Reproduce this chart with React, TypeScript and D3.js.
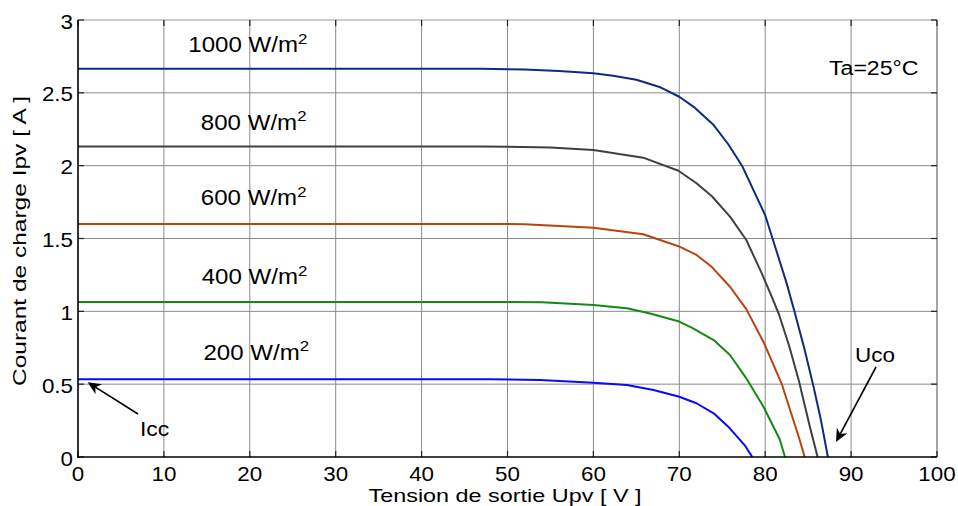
import React from "react";
import * as d3 from "d3";

const xTicks = [0, 10, 20, 30, 40, 50, 60, 70, 80, 90, 100];
const yTicks = [0, 0.5, 1, 1.5, 2, 2.5, 3];

const voltage1000 = [0, 47, 50, 52, 56, 60, 62.3, 65, 67.8, 70, 71.8, 74, 75.7, 77.3, 80, 80.8, 82.5, 83.4, 84.6, 85.6, 86.5, 87.3];
const current1000 = [2.665, 2.665, 2.662, 2.66, 2.65, 2.634, 2.618, 2.59, 2.538, 2.473, 2.398, 2.279, 2.147, 2.0, 1.66, 1.51, 1.192, 1.0, 0.735, 0.49, 0.25, 0];

const voltage800 = [0, 47, 50, 55, 60, 65.8, 69.9, 72, 73.8, 75.9, 77.8, 79.6, 80.6, 81.6, 82.8, 83.9, 85.2, 86.1];
const current800 = [2.132, 2.132, 2.13, 2.125, 2.107, 2.055, 1.965, 1.879, 1.79, 1.65, 1.49, 1.261, 1.124, 0.98, 0.76, 0.528, 0.208, 0];

const voltage600 = [0, 48, 52, 60, 65.8, 69.9, 72, 73.8, 75.9, 77.8, 79.8, 81.9, 83.9, 84.6];
const current600 = [1.6, 1.6, 1.598, 1.574, 1.529, 1.447, 1.387, 1.304, 1.169, 1.015, 0.79, 0.506, 0.139, 0];

const voltage400 = [0, 50, 54, 60, 63.9, 66.6, 70, 71.6, 74, 75.9, 77.8, 79.8, 81.7, 82.3];
const current400 = [1.064, 1.064, 1.062, 1.043, 1.021, 0.985, 0.93, 0.883, 0.803, 0.7, 0.54, 0.345, 0.12, 0];

const voltage200 = [0, 48, 53.8, 60, 63.9, 67, 70, 72, 74, 75.7, 77.6, 78.5];
const current200 = [0.533, 0.533, 0.529, 0.51, 0.494, 0.46, 0.414, 0.369, 0.3, 0.208, 0.082, 0];

const seriesNames = ["1000 W/m", "800 W/m", "600 W/m", "400 W/m", "200 W/m"];
const seriesColors = ["#102a80", "#404040", "#b8440e", "#138a13", "#0a0af5"];
const seriesVoltages = [voltage1000, voltage800, voltage600, voltage400, voltage200];
const seriesCurrents = [current1000, current800, current600, current400, current200];
// label anchor (data coords) for each curve label
const labelX = [12.84, 14.3, 14.3, 14.4, 14.6];
const labelY = [2.778, 2.245, 1.73, 1.186, 0.666];

const FONT = "'Liberation Sans', Arial, sans-serif";
const SX = 1.12;

function SText(props: { x: number; y: number; size: number; anchor?: string; sx?: number; children: React.ReactNode }) {
  const { x, y, size, anchor, sx, children } = props;
  return (
    <text transform={`translate(${x},${y}) scale(${sx ?? SX},1)`} fontSize={size} textAnchor={anchor ?? "start"} fill="#000">
      {children}
    </text>
  );
}

export default function App() {
  const W = 958, H = 506;
  const x = d3.scaleLinear().domain([0, 100]).range([78, 937]);
  const y = d3.scaleLinear().domain([0, 3]).range([457, 20]);
  const line = d3.line<[number, number]>().x(d => x(d[0])).y(d => y(d[1]));

  const arrow = (x1: number, y1: number, x2: number, y2: number) => {
    const ang = Math.atan2(y2 - y1, x2 - x1);
    const L = 13, Wd = 6;
    const bx = x2 - L * Math.cos(ang), by = y2 - L * Math.sin(ang);
    const nx = -Math.sin(ang), ny = Math.cos(ang);
    const mx = x2 - L * 0.7 * Math.cos(ang), my = y2 - L * 0.7 * Math.sin(ang);
    const pts = [
      [x2, y2],
      [bx + nx * Wd, by + ny * Wd],
      [mx, my],
      [bx - nx * Wd, by - ny * Wd],
    ];
    return (
      <g>
        <line x1={x1} y1={y1} x2={mx} y2={my} stroke="#000" strokeWidth={1.6} />
        <polygon points={pts.map(p => p.join(",")).join(" ")} fill="#000" />
      </g>
    );
  };

  return (
    <svg width={W} height={H} style={{ position: "absolute", left: 0, top: 0, background: "#fff" }} fontFamily={FONT}>
      <rect x={0} y={0} width={W} height={H} fill="#fff" />
      {/* grid */}
      {xTicks.slice(1, -1).map(t => (
        <line key={"gx" + t} x1={x(t)} x2={x(t)} y1={y(0)} y2={y(3)} stroke="#8a8a8a" strokeWidth={1} />
      ))}
      {yTicks.slice(1, -1).map(t => (
        <line key={"gy" + t} x1={x(0)} x2={x(100)} y1={y(t)} y2={y(t)} stroke="#8a8a8a" strokeWidth={1} />
      ))}
      {/* box */}
      <line x1={x(0)} x2={x(100)} y1={y(3)} y2={y(3)} stroke="#9a9a9a" strokeWidth={1.2} />
      <line x1={x(100)} x2={x(100)} y1={y(0)} y2={y(3)} stroke="#6a6a6a" strokeWidth={1.2} />
      {/* ticks */}
      {xTicks.map(t => (
        <g key={"tx" + t}>
          <line x1={x(t)} x2={x(t)} y1={y(0)} y2={y(0) - 6} stroke="#222" strokeWidth={1.2} />
          <line x1={x(t)} x2={x(t)} y1={y(3)} y2={y(3) + 6} stroke="#222" strokeWidth={1.2} />
          <SText x={x(t)} y={y(0) + 24} size={20} anchor="middle">{t}</SText>
        </g>
      ))}
      {yTicks.map(t => (
        <g key={"ty" + t}>
          <line x1={x(0)} x2={x(0) + 6} y1={y(t)} y2={y(t)} stroke="#222" strokeWidth={1.2} />
          <line x1={x(100)} x2={x(100) - 6} y1={y(t)} y2={y(t)} stroke="#222" strokeWidth={1.2} />
          <SText x={x(0) - 5} y={y(t) + 8.5} size={20} anchor="end">{t}</SText>
        </g>
      ))}
      {/* curves */}
      {seriesVoltages.map((vs, i) => (
        <path key={"c" + i} d={line(vs.map((v, j) => [v, seriesCurrents[i][j]]) as [number, number][]) || ""}
          fill="none" stroke={seriesColors[i]} strokeWidth={2} strokeLinejoin="round" />
      ))}
      {/* axes lines */}
      <line x1={x(0)} x2={x(0)} y1={y(0) + 1} y2={y(3)} stroke="#000" strokeWidth={1.6} />
      <line x1={x(0)} x2={x(100)} y1={y(0)} y2={y(0)} stroke="#000" strokeWidth={1.6} />
      {/* curve labels */}
      {seriesNames.map((n, i) => (
        <SText key={"l" + i} x={x(labelX[i])} y={y(labelY[i])} size={21.5} sx={1.12}>
          {n}<tspan fontSize={15} dy={-8.5}>2</tspan>
        </SText>
      ))}
      <SText x={829} y={75} size={21} sx={1.1}>Ta=25°C</SText>
      {/* annotations */}
      <SText x={855} y={362} size={21} sx={1.07}>Uco</SText>
      {arrow(876, 367, 836, 442)}
      <SText x={140} y={436} size={21} sx={1.09}>Icc</SText>
      {arrow(138, 414, 87.7, 382.3)}
      {/* axis titles */}
      <text x={505} y={501.5} textAnchor="middle" fontSize={19} fill="#000" textLength={273} lengthAdjust="spacingAndGlyphs">Tension de sortie Upv [ V ]</text>
      <text transform={`translate(26,241) rotate(-90)`} textAnchor="middle" fontSize={19} fill="#000" textLength={290} lengthAdjust="spacingAndGlyphs">Courant de charge Ipv [ A ]</text>
    </svg>
  );
}
